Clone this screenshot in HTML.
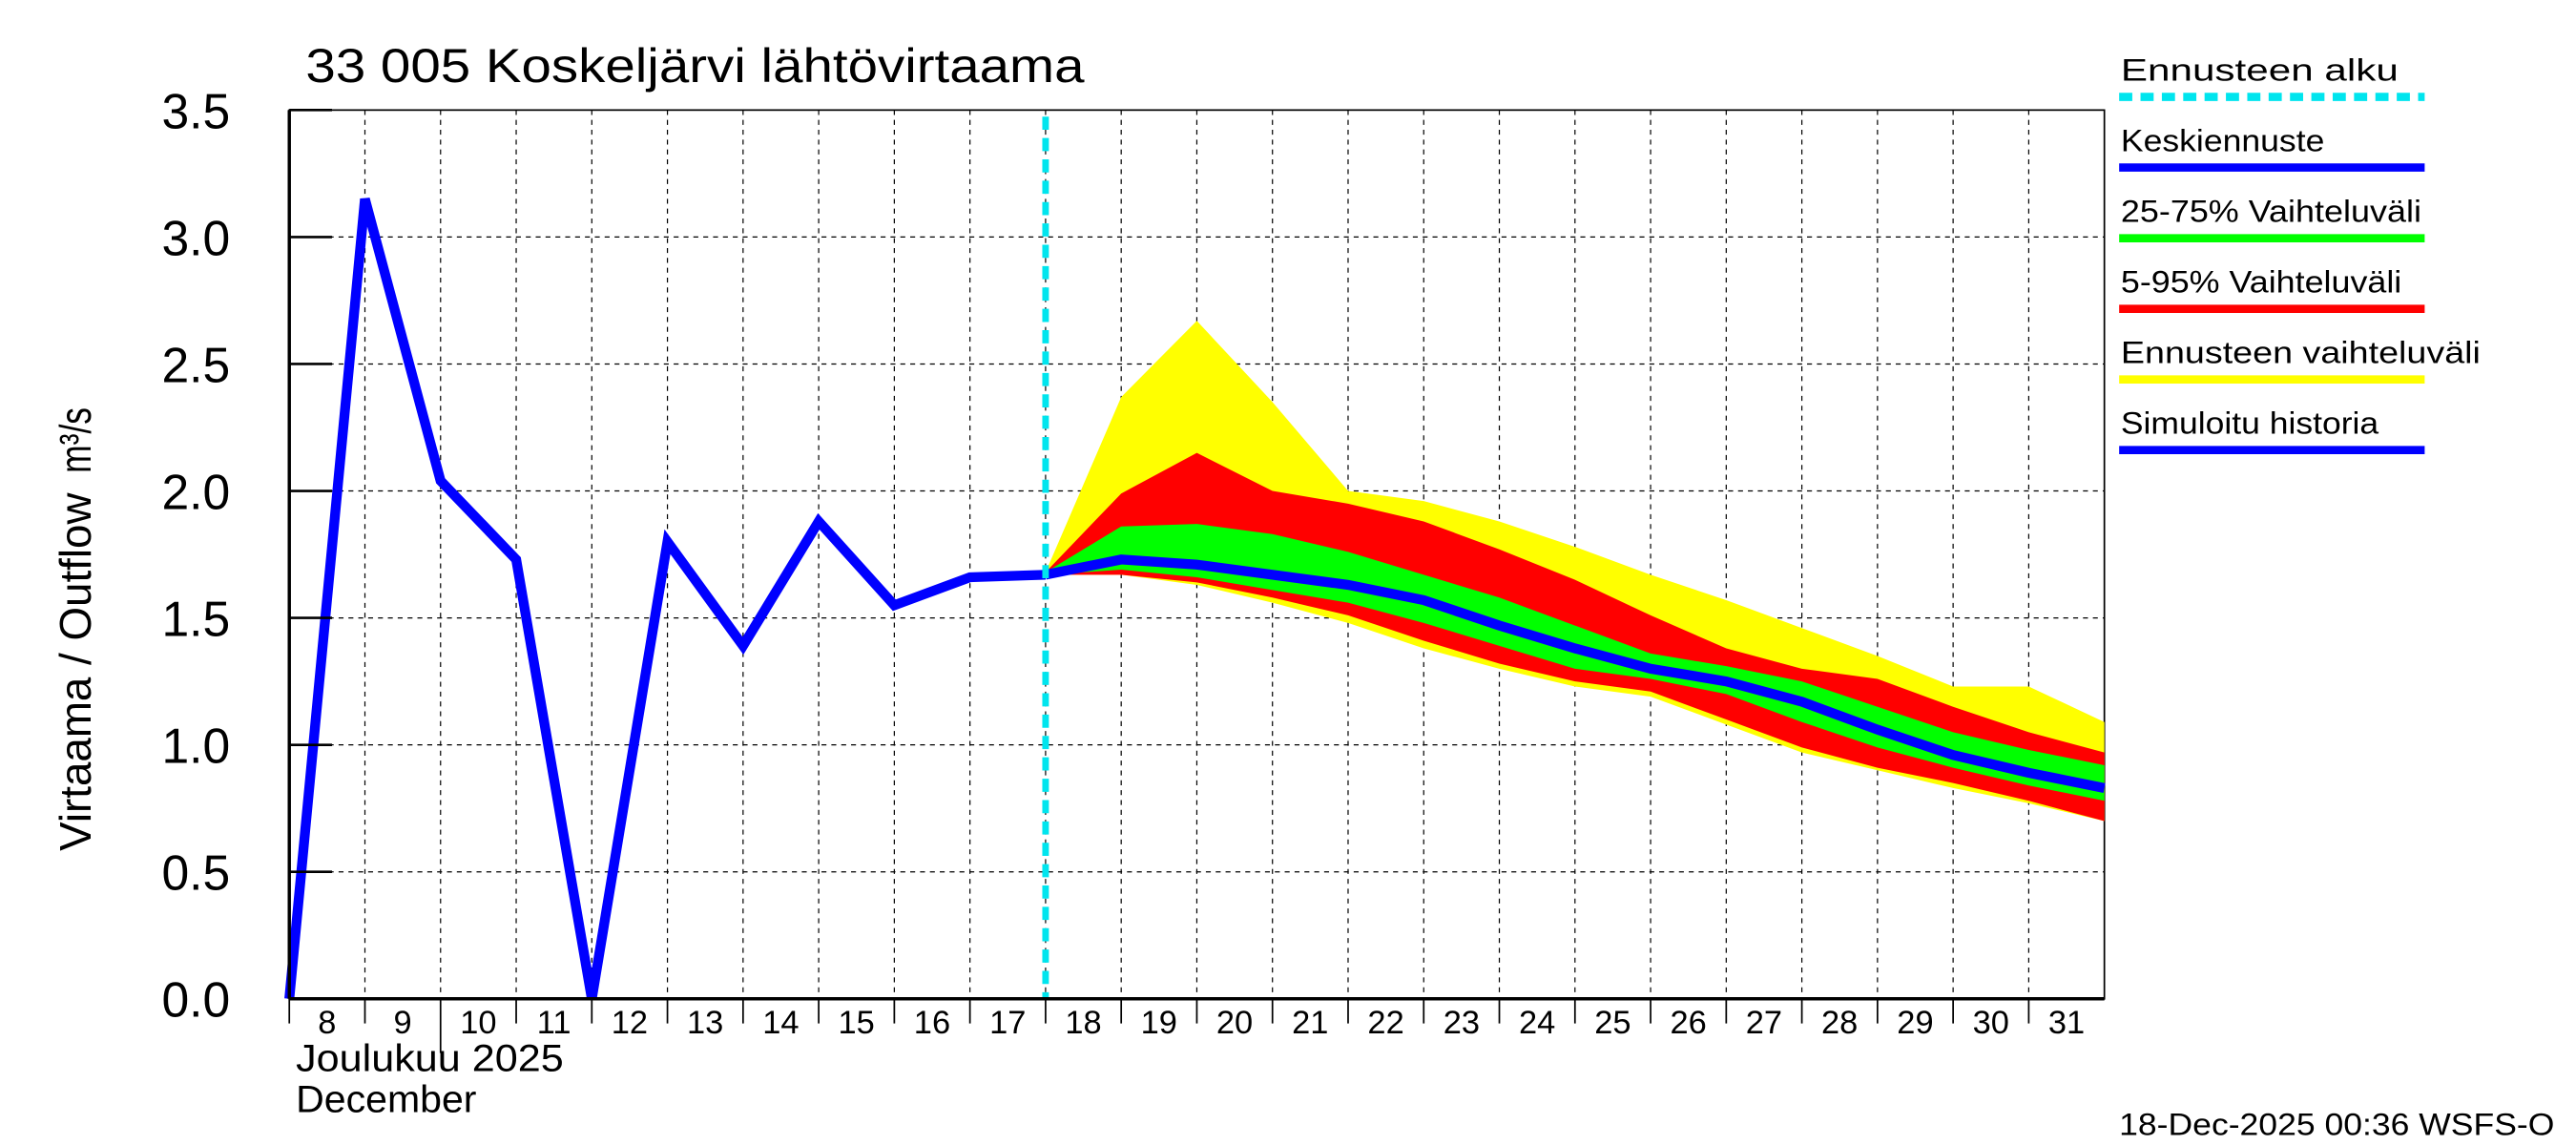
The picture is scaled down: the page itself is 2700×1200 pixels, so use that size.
<!DOCTYPE html>
<html><head><meta charset="utf-8"><style>
html,body{margin:0;padding:0;background:#fff;}
svg{display:block;font-family:"Liberation Sans",sans-serif;}
</style></head><body>
<svg id="chart" width="2700" height="1200" viewBox="0 0 1568 697" xmlns="http://www.w3.org/2000/svg"></svg>
<script>
const histDays=[8,9,10,11,12,13,14,15,16,17,18];
const histValues=[0.0,3.15,2.04,1.73,0.0,1.8,1.39,1.88,1.55,1.66,1.67];
const fcDays=[18,19,20,21,22,23,24,25,26,27,28,29,30,31,32];
const median=[1.67,1.73,1.71,1.67,1.63,1.57,1.47,1.38,1.30,1.25,1.17,1.06,0.96,0.89,0.83];
const yellowHi=[1.68,2.37,2.67,2.35,2.0,1.96,1.88,1.78,1.67,1.57,1.46,1.35,1.23,1.23,1.09];
const yellowLo=[1.67,1.67,1.63,1.56,1.48,1.38,1.30,1.23,1.19,1.08,0.97,0.90,0.83,0.77,0.70];
const redHi=[1.68,1.99,2.15,2.0,1.95,1.88,1.77,1.65,1.51,1.38,1.30,1.26,1.15,1.05,0.97];
const redLo=[1.67,1.67,1.64,1.58,1.51,1.41,1.32,1.25,1.21,1.10,0.99,0.91,0.85,0.78,0.70];
const greenHi=[1.68,1.86,1.87,1.83,1.76,1.67,1.58,1.47,1.36,1.31,1.25,1.15,1.05,0.98,0.92];
const greenLo=[1.67,1.69,1.66,1.61,1.56,1.48,1.39,1.30,1.26,1.20,1.09,0.99,0.91,0.84,0.78];
const yTicks=["0.0","0.5","1.0","1.5","2.0","2.5","3.0","3.5"];
const dayLabels=["8","9","10","11","12","13","14","15","16","17","18","19","20","21","22","23","24","25","26","27","28","29","30","31"];
const forecastStart=18;

const L=176,R=1281,T=67,B=608;
const x=d=>L+(d-8)*(R-L)/24;
const y=v=>B-v*(B-T)/3.5;
const svg=document.getElementById('chart');
const NS="http://www.w3.org/2000/svg";
function mk(tag,attrs,name,parent){const e=document.createElementNS(NS,tag);for(const k in attrs)e.setAttribute(k,attrs[k]);


(parent||svg).appendChild(e);return e;}
function txt(s,attrs,name){const t=mk('text',attrs,name);t.textContent=s;return t;}

for(let i=1;i<24;i++){mk('line',{x1:x(8+i),x2:x(8+i),y1:T,y2:B,stroke:'#000','stroke-width':0.7,'stroke-dasharray':'3,3'},'v-grid');}
for(let i=1;i<7;i++){mk('line',{x1:L,x2:R,y1:y(i*0.5),y2:y(i*0.5),stroke:'#000','stroke-width':0.7,'stroke-dasharray':'3,3'},'h-grid');}
mk('rect',{x:L,y:T,width:R-L,height:B-T,fill:'none',stroke:'#000','stroke-width':1},'plot-frame');

function band(hi,lo,color,name){let p=fcDays.map((d,i)=>x(d)+','+y(hi[i]));p=p.concat(fcDays.slice().reverse().map((d,j)=>{const i=fcDays.length-1-j;return x(d)+','+y(lo[i]);}));mk('polygon',{points:p.join(' '),fill:color},name);}
band(yellowHi,yellowLo,'#ffff00','band-forecast-range');
band(redHi,redLo,'#ff0000','band-5-95');
band(greenHi,greenLo,'#00ff00','band-25-75');
mk('polyline',{points:histDays.map((d,i)=>x(d)+','+y(histValues[i])).join(' '),fill:'none',stroke:'#0000ff','stroke-width':6},'simulated-history-line');
mk('polyline',{points:fcDays.map((d,i)=>x(d)+','+y(median[i])).join(' '),fill:'none',stroke:'#0000ff','stroke-width':6},'median-forecast-line');
mk('line',{x1:x(forecastStart),x2:x(forecastStart),y1:T+4,y2:B,stroke:'#00e5ee','stroke-width':4,'stroke-dasharray':'8,5'},'forecast-start-line');

mk('line',{x1:L,x2:R,y1:B,y2:B,stroke:'#000','stroke-width':2},'x-axis');
mk('line',{x1:L,x2:L,y1:T,y2:B,stroke:'#000','stroke-width':2},'y-axis');
yTicks.forEach((s,i)=>{const yy=y(i*0.5);mk('line',{x1:L,x2:L+26,y1:yy,y2:yy,stroke:'#000','stroke-width':1.5},'y-tick');
txt(s,{x:L-36,y:yy+11,'font-size':30,'text-anchor':'end'},'y-tick-label');});
dayLabels.forEach((s,i)=>{const xx=x(8+i);mk('line',{x1:xx,x2:xx,y1:B,y2:B+(s==='10'?33:15),stroke:'#000','stroke-width':1},'x-tick');
txt(s,{x:xx+23,y:B+21,'font-size':20,'text-anchor':'middle'},'x-tick-label');});
txt('Joulukuu  2025',{x:180,y:652,'font-size':23,textLength:163,lengthAdjust:'spacingAndGlyphs'},'month-label-fi');
txt('December',{x:180,y:677,'font-size':23,textLength:110,lengthAdjust:'spacingAndGlyphs'},'month-label-en');
txt('Virtaama / Outflow',{x:0,y:0,'font-size':27,textLength:218,lengthAdjust:'spacingAndGlyphs',transform:'translate(55,518) rotate(-90)'},'y-axis-title');
txt('m³/s',{x:0,y:0,'font-size':27,textLength:40,lengthAdjust:'spacingAndGlyphs',transform:'translate(55,288) rotate(-90)'},'y-axis-unit');
txt('33 005 Koskeljärvi lähtövirtaama',{x:186,y:50,'font-size':29,textLength:474,lengthAdjust:'spacingAndGlyphs'},'chart-title');
txt('18-Dec-2025 00:36 WSFS-O',{x:1290,y:691,'font-size':19,textLength:265,lengthAdjust:'spacingAndGlyphs'},'timestamp');

const leg=[['Ennusteen alku','#00e5ee',true,169],['Keskiennuste','#0000ff',false,124],['25-75% Vaihteluväli','#00ff00',false,183],['5-95% Vaihteluväli','#ff0000',false,171],['Ennusteen vaihteluväli','#ffff00',false,219],['Simuloitu historia','#0000ff',false,157]];
leg.forEach((l,i)=>{const yy=49+i*43;txt(l[0],{x:1291,y:yy,'font-size':19,textLength:l[3],lengthAdjust:'spacingAndGlyphs'},'legend-label');
const a={x1:1290,x2:1476,y1:yy+10,y2:yy+10,stroke:l[1],'stroke-width':5};if(l[2])a['stroke-dasharray']='8,5';
mk('line',a,'legend-swatch');});
</script>
</body></html>
